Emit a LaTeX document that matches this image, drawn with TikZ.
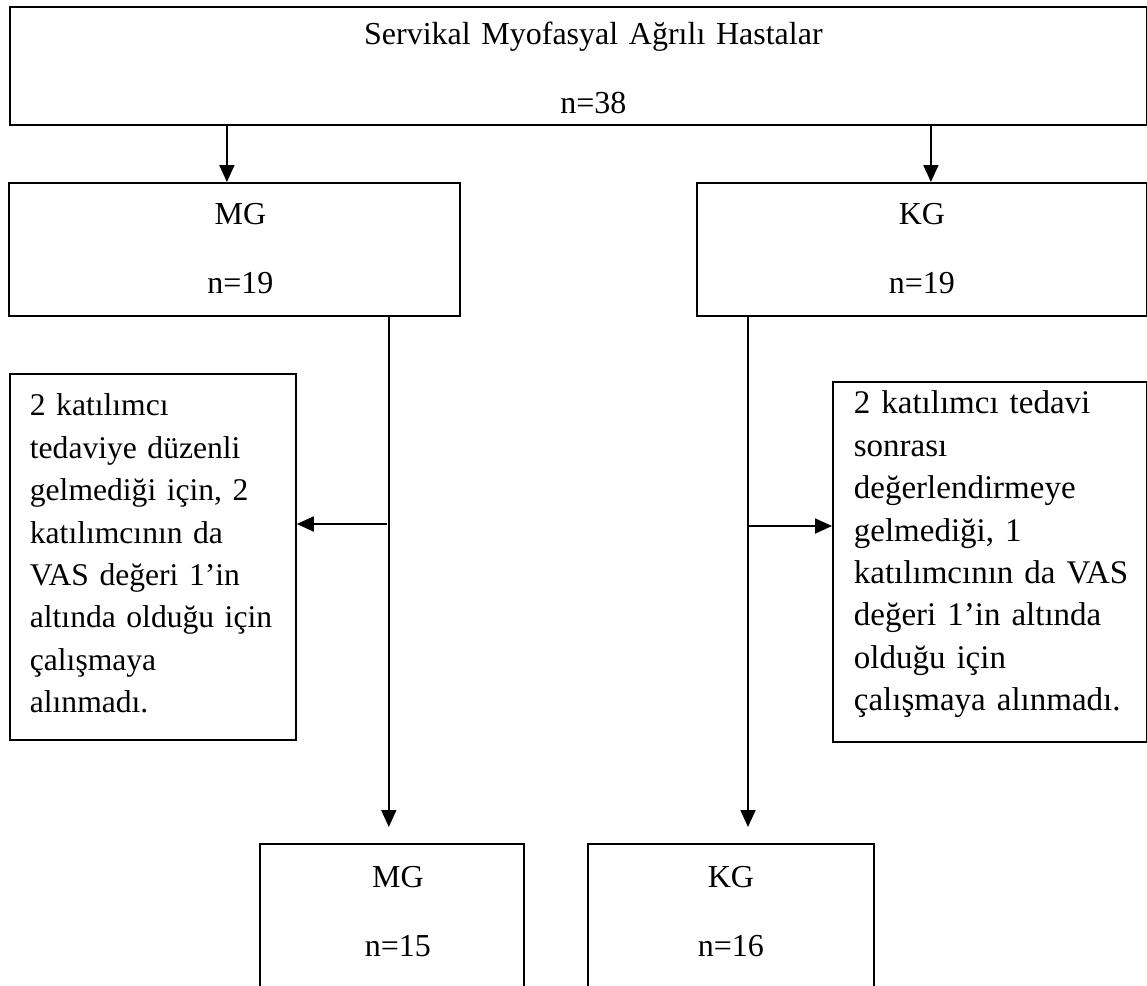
\documentclass[tikz,border=0pt]{standalone}
\usepackage{fontspec}
\setmainfont{Liberation Serif}
\usetikzlibrary{arrows.meta}

\begin{document}
\begin{tikzpicture}[x=0.5pt,y=-0.5pt,
        kutu/.style={draw,line width=0.9pt,anchor=north west,inner sep=0pt,
            font=\fontsize{16}{34.5}\selectfont},
        orta/.style={kutu,align=center,
            execute at begin node={\leftskip=#1 plus 1fill\rightskip=0pt plus 1fill}},
        orta/.default=0pt,
        yan/.style={kutu,align=left,font=\fontsize{15.8}{21.2}\selectfont},
        ok/.style={line width=0.9pt,-{Triangle[length=8.5pt,width=7.5pt]}}]
        \useasboundingbox (0,0) rectangle (1147,986);
        \clip (0,0) rectangle (1147,986);

        \node[orta=15pt,text width=568.5pt,text height=19pt,text depth=40pt] (hasta) at (9,6)
            {Servikal Myofasyal Ağrılı Hastalar\\n=38};
        \node[orta=6pt,text width=225.5pt,text height=21pt,text depth=45.5pt] (mg) at (8,182) {MG\\n=19};
        \node[orta,text width=225pt,text height=21pt,text depth=45.5pt] (kg) at (696,182) {KG\\n=19};

        \node[yan,inner xsep=10pt,text width=123pt,text height=21pt,text depth=162pt] (dropmg) at (9,373)
            {2~katılımcı\\tedaviye~düzenli\\gelmediği~için,~2\\katılımcının~da\\VAS~değeri~1’in\\altında~olduğu~için\\çalışmaya\\alınmadı.};
        \node[yan,inner xsep=10.5pt,text width=136pt,text height=16pt,text depth=164pt,
            font=\fontsize{16.5}{21.2}\selectfont] (dropkg) at (832,381)
            {2~katılımcı~tedavi\\sonrası\\değerlendirmeye\\gelmediği,~1\\katılımcının~da~VAS\\değeri~1’in~altında\\olduğu~için\\çalışmaya~alınmadı.};

        \node[orta=6pt,text width=132pt,text height=22pt,text depth=61.5pt] (mgend) at (259,843) {MG\\n=15};
        \node[orta,text width=143pt,text height=22pt,text depth=61.5pt] (kgend) at (587,843) {KG\\n=16};

        \coordinate (mgin) at ([xshift=-3.75pt]mg.north);
        \coordinate (kgin) at ([xshift=4.5pt]kg.north);
        \coordinate (mgline) at ([xshift=-36pt]mg.south east);
        \coordinate (kgline) at ([xshift=26pt]kg.south west);
        \coordinate (mgsplit) at (387,524);
        \coordinate (kgsplit) at (748,526);

        \draw[ok] (mgin |- hasta.south) -- (mgin);
        \draw[ok] (kgin |- hasta.south) -- (kgin);
        \draw[ok,shorten >=8pt] (mgline) -- (mgline |- mgend.north);
        \draw[ok,shorten >=8pt] (kgline) -- (kgline |- kgend.north);
        \draw[ok] (mgsplit) -- (mgsplit -| dropmg.east);
        \draw[ok] (kgsplit) -- (kgsplit -| dropkg.west);
    \end{tikzpicture}
\end{document}
